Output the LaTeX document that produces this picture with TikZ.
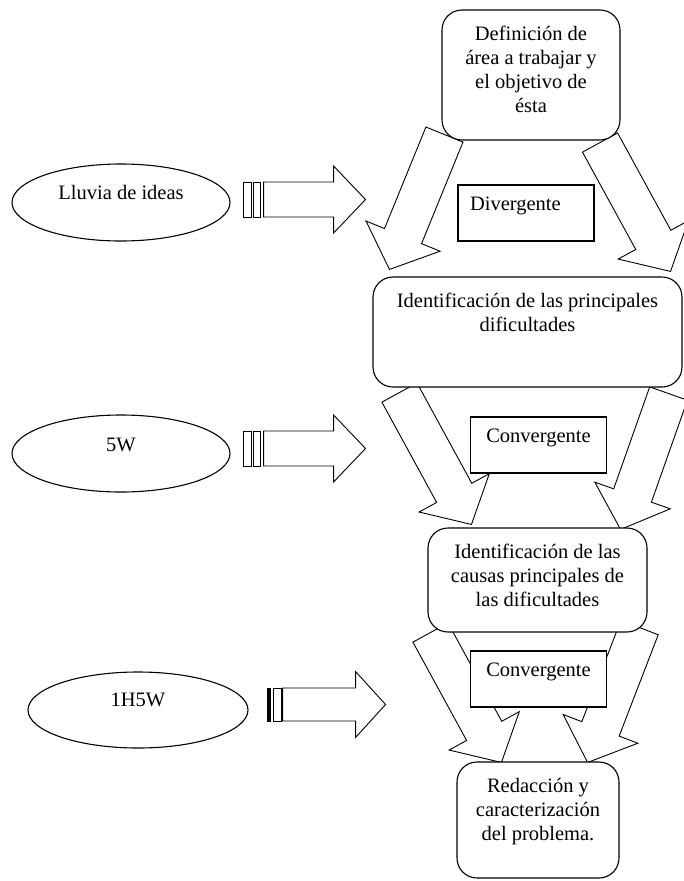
\documentclass[tikz,border=0pt]{standalone}
\usepackage{fontspec}
\setmainfont{Liberation Serif}
\usetikzlibrary{positioning,calc,shapes.geometric,backgrounds}

\tikzset{
  bigbox/.style={draw, fill=white, rounded corners=20pt, line width=1.1pt, inner sep=0pt},
  smallbox/.style={draw, fill=white, line width=1.4pt, inner xsep=12pt, inner ysep=0pt,
    text width=112pt, text height=25pt, text depth=31pt},
  idea/.style={draw, ellipse, line width=1.1pt, inner sep=0pt, minimum width=218pt, minimum height=77pt},
  arrowbody/.style={draw, fill=white, line width=0.9pt, line join=miter},
  stripe/.style={draw, fill=white, line width=1pt}
}

% text of a big box, first line near the top
\newcommand{\boxtext}[3]{\parbox[c][#1][t]{#2}{\centering\rule{0pt}{30.5pt}#3}}
% fat arrow: from, to, half shaft, half head, head length
\newcommand{\fatarrow}[5]{%
  \coordinate (neck) at ($(#2)!#5!(#1)$);
  \draw[arrowbody] ($(#1)!#3!90:(#2)$) -- ($(neck)!#3!90:(#2)$) -- ($(neck)!#4!90:(#2)$)
    -- (#2) -- ($(neck)!#4!-90:(#2)$) -- ($(neck)!#3!-90:(#2)$) -- ($(#1)!#3!-90:(#2)$) -- cycle;}

\begin{document}
\begin{tikzpicture}[x=1pt,y=-1pt,font=\fontsize{20.5}{24}\selectfont]
\useasboundingbox (0,0) rectangle (683,881);

% steps
\node[bigbox] (def) at (531,75) {\boxtext{130pt}{178pt}{Definición de\\ área a trabajar y\\ el objetivo de\\ ésta}};
\node[bigbox] (prin) at (527.5,332) {\boxtext{110pt}{309pt}{Identificación de las principales\\ dificultades}};
\node[bigbox] (caus) at (537.5,580) {\boxtext{104pt}{219pt}{Identificación de las\\ causas principales de\\ las dificultades}};
\node[bigbox] (redac) at (538,820) {\boxtext{116pt}{162pt}{Redacción y\\ caracterización\\ del problema.}};

\node[smallbox,align=left] (div) at (526,213) {Divergente};
\node[smallbox,align=center] (conv1) at (538.5,445) {Convergente};
\node[smallbox,align=center] (conv2) at (538.5,679) {Convergente};

% tools
\node[idea,text height=12pt,text depth=18pt] (lluvia) at (121,202.5) {Lluvia de ideas};
\node[idea,text height=12pt,text depth=16pt] (cinco) at (121,453.5) {5W};
\node[idea,text height=12pt,text depth=19pt,minimum width=220pt,minimum height=76pt] (hw) at (138,710) {1H5W};

\begin{pgfonlayer}{background}
  \coordinate (a1) at ($(def.south west)+(3,-6)$);
  \coordinate (b1) at ($(prin.north west)+(17,-7)$);
  \coordinate (a2) at ($(def.south east)+(-20.5,2)$);
  \coordinate (b2) at ($(prin.north east)+(-12,-5)$);
  \coordinate (a3) at ($(prin.south west)+(27,5)$);
  \coordinate (b3) at ($(caus.north west)+(44,-3)$);
  \coordinate (a4) at ($(prin.south east)+(-14,6)$);
  \coordinate (b4) at ($(caus.north east)+(-27,2)$);
  \coordinate (a5) at ($(caus.south west)+(3,0)$);
  \coordinate (b5) at ($(redac.north west)+(45,1)$);
  \coordinate (a6) at ($(caus.south east)+(-8,-5)$);
  \coordinate (b6) at ($(redac.north east)+(-32,1)$);
  \foreach \s/\e in {a1/b1,a2/b2,a3/b3,a4/b4,a5/b5,a6/b6}
    \fatarrow{\s}{\e}{20pt}{40pt}{36pt};
\end{pgfonlayer}

% arrows from the tools
\coordinate (s1) at ($(lluvia.east)+(33,-3)$);
\coordinate (t1) at ($(s1)+(102,0)$);
\coordinate (s2) at ($(cinco.east)+(33,-5)$);
\coordinate (t2) at ($(s2)+(102,0)$);
\coordinate (s3) at ($(hw.east)+(34,-5.5)$);
\coordinate (t3) at ($(s3)+(103,0)$);
\fatarrow{s1}{t1}{17.5pt}{33.5pt}{32pt}
\fatarrow{s2}{t2}{17.5pt}{33.5pt}{32pt}
\fatarrow{s3}{t3}{16.5pt}{33pt}{30pt}
\draw[stripe] ($(s1)+(-20,-17.5)$) rectangle ++(8,35);
\draw[stripe] ($(s1)+(-10,-17.5)$) rectangle ++(7,35);
\draw[stripe] ($(s2)+(-20,-17.5)$) rectangle ++(8,35);
\draw[stripe] ($(s2)+(-10,-17.5)$) rectangle ++(7,35);
\draw[stripe,fill=black] ($(s3)+(-15,-16.5)$) rectangle ++(3,33);
\draw[stripe] ($(s3)+(-9,-16.5)$) rectangle ++(8,33);
\end{tikzpicture}
\end{document}
